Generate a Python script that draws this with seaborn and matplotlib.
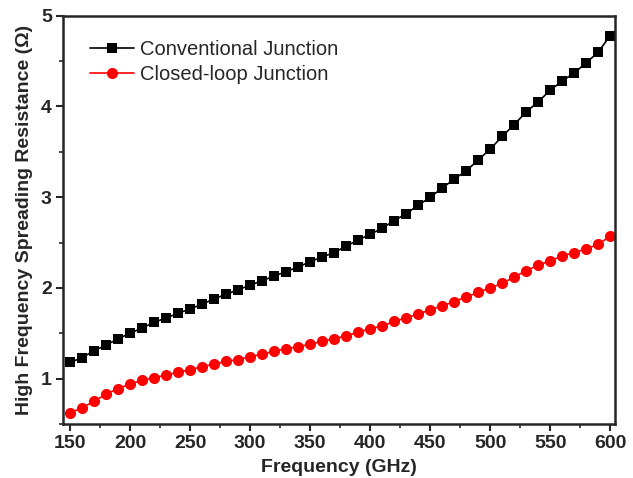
import matplotlib
matplotlib.use("Agg")
import matplotlib.pyplot as plt
import matplotlib.ticker as mticker
import seaborn as sns
import pandas as pd

# Frequency sweep (GHz)
FREQ = [150, 160, 170, 180, 190, 200, 210, 220, 230, 240, 250, 260, 270, 280,
        290, 300, 310, 320, 330, 340, 350, 360, 370, 380, 390, 400, 410, 420,
        430, 440, 450, 460, 470, 480, 490, 500, 510, 520, 530, 540, 550, 560,
        570, 580, 590, 600]

# Resistance (Ohm)
CONVENTIONAL = [1.18, 1.23, 1.31, 1.37, 1.44, 1.50, 1.56, 1.62, 1.67, 1.72,
                1.77, 1.82, 1.88, 1.93, 1.98, 2.03, 2.08, 2.13, 2.18, 2.23,
                2.29, 2.34, 2.39, 2.46, 2.53, 2.59, 2.66, 2.74, 2.82, 2.91,
                3.00, 3.10, 3.20, 3.29, 3.41, 3.53, 3.67, 3.80, 3.94, 4.05,
                4.18, 4.28, 4.37, 4.48, 4.60, 4.78]
CLOSED_LOOP = [0.62, 0.68, 0.75, 0.83, 0.89, 0.94, 0.98, 1.01, 1.04, 1.07,
               1.10, 1.13, 1.16, 1.19, 1.21, 1.24, 1.27, 1.30, 1.33, 1.35,
               1.38, 1.41, 1.44, 1.47, 1.51, 1.55, 1.58, 1.63, 1.67, 1.71,
               1.76, 1.80, 1.85, 1.90, 1.95, 2.00, 2.05, 2.12, 2.19, 2.25,
               2.30, 2.35, 2.39, 2.43, 2.48, 2.57]

sns.set_theme(style="ticks")
plt.rcParams["font.family"] = ["Liberation Sans", "DejaVu Sans"]

df = pd.DataFrame({"freq": FREQ, "conv": CONVENTIONAL, "closed": CLOSED_LOOP})

fig = plt.figure(figsize=(6.33, 4.78), dpi=100)
ax = fig.add_axes([0.0995, 0.113, 0.872, 0.854])

sns.lineplot(data=df, x="freq", y="conv", ax=ax, color="black", linewidth=1.2,
             marker="s", markersize=6.5, markeredgewidth=0,
             label="Conventional Junction")
sns.lineplot(data=df, x="freq", y="closed", ax=ax, color="#ff0000", linewidth=1.2,
             marker="o", markersize=8, markeredgewidth=0,
             label="Closed-loop Junction")

ax.set_xlim(144, 604)
ax.set_ylim(0.5, 5)
ax.xaxis.set_major_locator(mticker.MultipleLocator(50))
ax.xaxis.set_minor_locator(mticker.MultipleLocator(25))
ax.yaxis.set_major_locator(mticker.MultipleLocator(1))
ax.yaxis.set_minor_locator(mticker.MultipleLocator(0.5))
ax.tick_params(which="major", direction="out", length=5, width=1.5,
               labelsize=14, pad=3)
ax.tick_params(which="minor", direction="out", length=3, width=1.2)
for lab in ax.get_xticklabels() + ax.get_yticklabels():
    lab.set_fontweight("bold")
for sp in ax.spines.values():
    sp.set_linewidth(1.8)
    sp.set_visible(True)

ax.set_xlabel("Frequency (GHz)", fontsize=14, fontweight="bold", labelpad=5)
ax.set_ylabel("High Frequency Spreading Resistance (\u03a9)", fontsize=14,
              fontweight="bold", labelpad=6)

ax.legend(loc="upper left", frameon=False, fontsize=14.5, handlelength=2.2,
          handletextpad=0.3, labelspacing=0.32, borderaxespad=0,
          borderpad=0.4, bbox_to_anchor=(0.034, 0.961))

fig.savefig("out.png", dpi=100)
